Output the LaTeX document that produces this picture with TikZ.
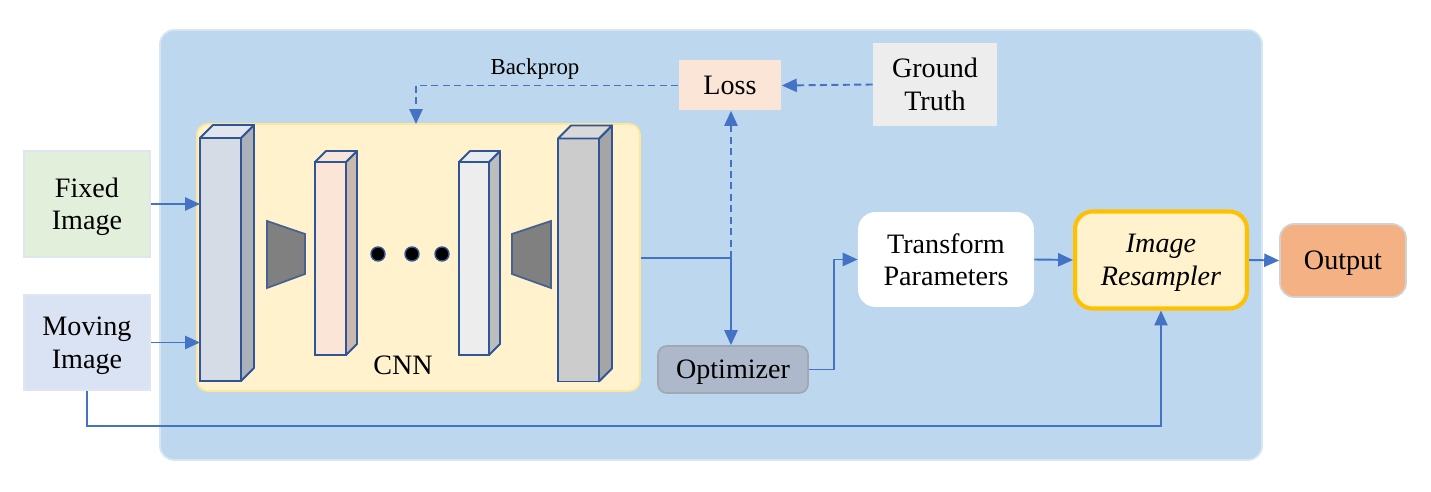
\documentclass[tikz,border=0pt]{standalone}
\usepackage{fontspec}
\setmainfont{Liberation Serif}
\usetikzlibrary{arrows.meta}

\definecolor{panelblue}{HTML}{BDD7EE}
\definecolor{panelline}{HTML}{D6E6F4}
\definecolor{linkblue}{HTML}{4472C4}
\definecolor{cubeblue}{HTML}{2F5597}
\definecolor{cnnfill}{HTML}{FFF2CC}
\definecolor{cnnline}{HTML}{FFE699}
\definecolor{resline}{HTML}{FFC000}
\definecolor{fixedfill}{HTML}{E2EFDA}
\definecolor{movingfill}{HTML}{DAE3F3}
\definecolor{inputline}{HTML}{DEE6F2}

\tikzset{
  box/.style={rectangle, inner sep=2pt, align=center, text depth=0pt, font=\fontsize{16}{18.5}\selectfont},
  fmap/.style={rectangle, draw=cubeblue, line width=1.1pt, inner sep=0pt, outer sep=0pt},
  link/.style={draw=linkblue, line width=1.1pt, -{Triangle[length=8.5pt,width=7.5pt]}},
  dashlink/.style={link, dashed, dash pattern=on 4pt off 2.5pt},
}

% side and top of a feature map: node, depth, side colour, top colour
\newcommand\fmapdepth[4]{%
  \filldraw[fill=#3, draw=cubeblue, line width=1.1pt, line join=round]
    (#1.south east) -- ++(#2,-#2) -- ([shift={(#2,-#2)}]#1.north east) -- (#1.north east) -- cycle;
  \filldraw[fill=#4, draw=cubeblue, line width=1.1pt, line join=round]
    (#1.north west) -- ++(#2,-#2) -- ([shift={(#2,-#2)}]#1.north east) -- (#1.north east) -- cycle;}

\begin{document}
\begin{tikzpicture}[x=0.02cm, y=-0.02cm, >=stealth]
\useasboundingbox (0,0) rectangle (1431,492);

% panel
\filldraw[fill=panelblue, draw=panelline, line width=1pt, rounded corners=8pt] (160,30) rectangle (1262,460);

% inputs
\node[box, fill=fixedfill, draw=inputline, line width=1pt, minimum width=2.52cm, minimum height=2.12cm] (fixed) at (87,204) {Fixed\\Image};
\node[box, fill=movingfill, draw=inputline, line width=1pt, minimum width=2.52cm, minimum height=1.9cm] (moving) at (87,342.5) {Moving\\Image};

% CNN
\node[box, fill=cnnfill, draw=cnnline, line width=1pt, rounded corners=6pt, minimum width=8.86cm, minimum height=5.34cm] (cnn) at (418.5,257.5) {};
\node[box] (cnnlabel) at (403,365) {CNN};

\node[fmap, fill={rgb,255:red,214;green,220;blue,229}, minimum width=0.82cm, minimum height=4.86cm] (l1) at (220.5,259.5) {};
\fmapdepth{l1}{13}{{rgb,255:red,171;green,177;blue,186}}{{rgb,255:red,224;green,229;blue,238}}
\node[fmap, fill={rgb,255:red,251;green,229;blue,214}, minimum width=0.62cm, minimum height=3.86cm] (l2) at (330.5,258.5) {};
\fmapdepth{l2}{11}{{rgb,255:red,201;green,184;blue,174}}{{rgb,255:red,248;green,229;blue,218}}
\node[fmap, fill={rgb,255:red,237;green,237;blue,237}, minimum width=0.6cm, minimum height=3.86cm] (l3) at (474,258.5) {};
\fmapdepth{l3}{11}{{rgb,255:red,189;green,189;blue,189}}{{rgb,255:red,232;green,236;blue,240}}
\node[fmap, fill={rgb,255:red,204;green,204;blue,204}, minimum width=0.82cm, minimum height=4.86cm] (l4) at (578.5,260) {};
\fmapdepth{l4}{13}{{rgb,255:red,165;green,165;blue,165}}{{rgb,255:red,217;green,217;blue,217}}

\filldraw[fill=gray, draw=cubeblue!70!gray, line width=1pt] (267,221) -- (305,234) -- (305,274) -- (267,288) -- cycle;
\filldraw[fill=gray, draw=cubeblue!70!gray, line width=1pt] (551,221) -- (512,234) -- (512,274) -- (551,288) -- cycle;
\foreach \x in {378,412,442}
  \filldraw[fill=black, draw=cubeblue, line width=0.8pt] (\x,254) circle (7);

% loss side
\node[box, fill={rgb,255:red,251;green,229;blue,214}, minimum width=2.06cm, minimum height=1.0cm] (loss) at (730,85.5) {Loss};
\node[box, fill={rgb,255:red,237;green,237;blue,237}, minimum width=2.48cm, minimum height=1.66cm] (truth) at (935,84.5) {Ground\\Truth};
\node[font=\fontsize{13}{15}\selectfont] (bplabel) at (535,69) {Backprop};

% right side
\node[box, fill={rgb,255:red,173;green,185;blue,202}, draw={rgb,255:red,160;green,168;blue,180}, line width=1pt, rounded corners=5pt, minimum width=3.0cm, minimum height=0.94cm] (optim) at (733,369.5) {Optimizer};
\node[box, fill=white, rounded corners=10pt, minimum width=3.52cm, minimum height=1.9cm] (trans) at (946,259.5) {Transform\\Parameters};
\node[box, fill=cnnfill, draw=resline, line width=2.3pt, rounded corners=10pt, minimum width=3.44cm, minimum height=1.94cm] (resamp) at (1161,260) {\itshape Image\\\itshape Resampler};
\node[box, fill={rgb,255:red,244;green,177;blue,131}, draw=gray!35!white, line width=1pt, rounded corners=8pt, minimum width=2.52cm, minimum height=1.46cm] (output) at (1343,260.5) {Output};

% connectors
\coordinate (bp) at (416,124);
\coordinate (split) at (731,258);
\draw[link] (fixed.east) -- (fixed.east -| l1.west);
\draw[link] (moving.east) -- (moving.east -| l1.west);
\draw[dashlink] (loss.west) -| (bp);
\draw[dashlink] (truth.west) -- (loss.east);
\draw[dashlink] (split) -- (split |- loss.south);
\draw[link] (cnn.east |- split) -- (split) -- (split |- optim.north);
\draw[link] (optim.east) -- ++(25,0) |- (trans.west);
\draw[link] (trans.east) -- (resamp.west);
\draw[link] (resamp.east) -- (output.west);
\draw[link] (moving.south) -- ++(0,35) -| (resamp.south);
\end{tikzpicture}
\end{document}
